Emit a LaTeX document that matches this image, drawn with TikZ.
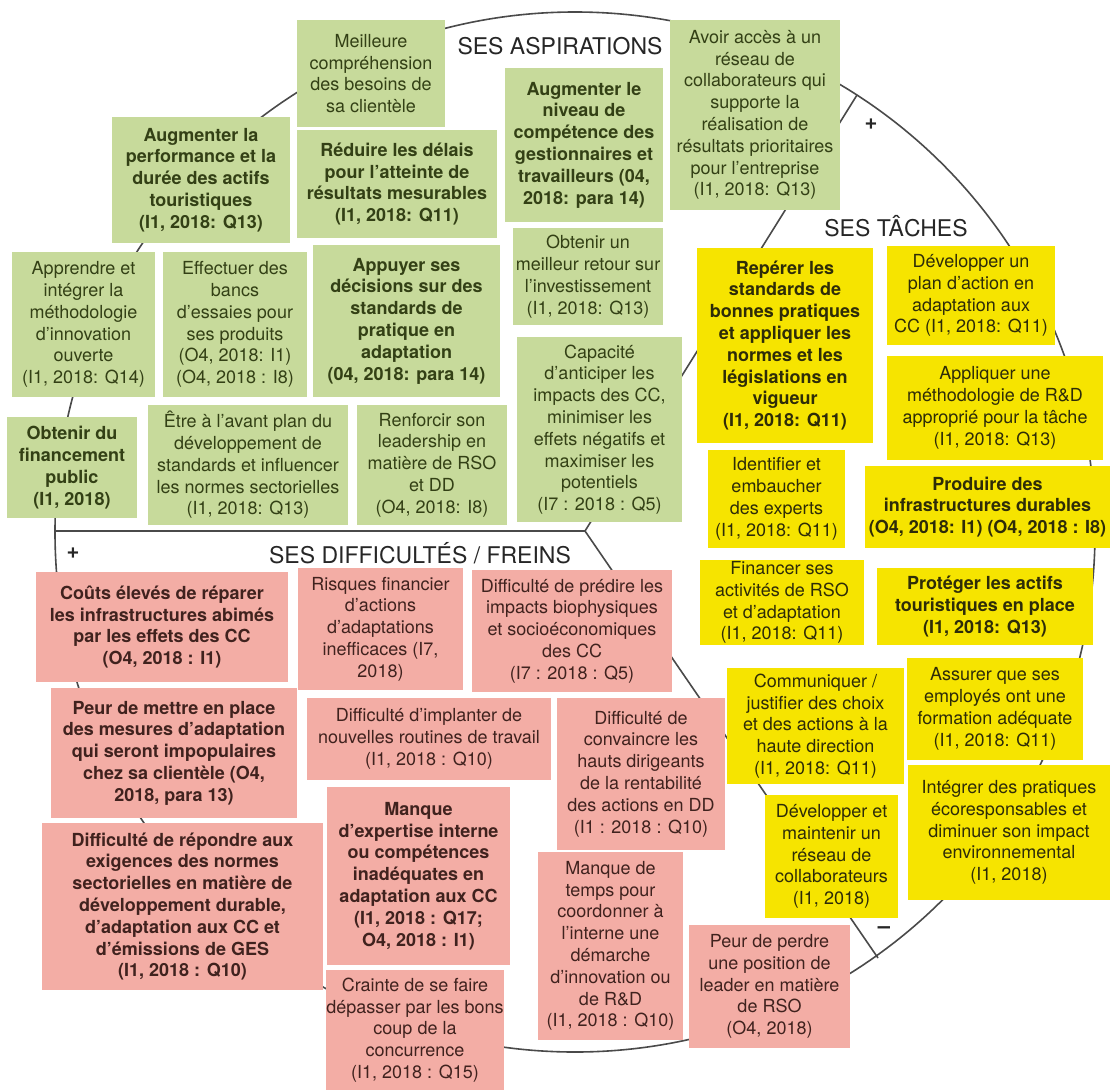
\documentclass[tikz,border=0pt]{standalone}
\usepackage{fontspec}
\setmainfont{TeX Gyre Heros}

\definecolor{gfill}{HTML}{C7DA9B}
\definecolor{yfill}{HTML}{F6E400}
\definecolor{pfill}{HTML}{F3ADA5}
\definecolor{gtext}{HTML}{334015}
\definecolor{ytext}{HTML}{2E2C08}
\definecolor{ptext}{HTML}{40221E}
\definecolor{rim}{HTML}{4A4A4A}
\definecolor{heading}{HTML}{262626}

\newcommand\cardfont{\fontsize{18}{21.8}\selectfont}
% #1 style, #2 name, #3 left, #4 top, #5 right, #6 bottom, #7 text
\newcommand\drawcard[7]{%
  \node[#1, minimum width={(#5)-(#3)}, minimum height={(#6)-(#4)}]
    (#2) at ({((#3)+(#5))/2},{((#4)+(#6))/2}) {#7};}

\begin{document}
\begin{tikzpicture}[x=1pt,y=-1pt,
  card/.style={inner sep=0pt, align=center, font=\cardfont},
  heavy/.style={font=\cardfont\bfseries},
  gain/.style={card, fill=gfill, text=gtext},
  task/.style={card, fill=yfill, text=ytext},
  pain/.style={card, fill=pfill, text=ptext},
  divider/.style={draw=rim, line width=1.6pt},
  heading/.style={font=\fontsize{23}{26}\selectfont, text=heading, inner sep=0pt},
  sign/.style={font=\fontsize{22}{24}\selectfont\bfseries, text=heading, inner sep=0pt}]

\useasboundingbox (0,0) rectangle (1113,1090);
\fill[white] (0,0) rectangle (1113,1090);

% profile circle split into three sectors
\coordinate (hub) at (585,531);
\coordinate (west) at (55,531);
\coordinate (ne) at (857,95);
\coordinate (se) at (878,958);
\draw[divider] (575,532) circle[radius=520];
\draw[divider] (west) -- (hub) -- (ne);
\draw[divider] (hub) -- (se);

% sector headings and signs
\node[heading] (hgain) at (560,46) {SES ASPIRATIONS};
\node[heading] (htask) at (896,226) {SES TÂCHES};
\node[heading] (hpain) at (420,553) {SES DIFFICULTÉS / FREINS};
\node[sign] (plusne) at (871,124) {+};
\node[sign] (plusw) at (73,553) {+};
\node[sign] (minusse) at (884,930) {--};

% aspirations
\drawcard{gain}{g1}{297}{20}{445}{127}{Meilleure\\compréhension\\des besoins de\\sa clientèle}
\drawcard{gain,heavy}{g2}{112}{117}{290}{243}{Augmenter la\\performance et la\\durée des actifs\\touristiques\\(I1, 2018: Q13)}
\drawcard{gain,heavy}{g3}{297}{130}{497}{238}{Réduire les délais\\pour l’atteinte de\\résultats mesurables\\(I1, 2018: Q11)}
\drawcard{gain,heavy}{g4}{505}{68}{663}{222}{Augmenter le\\niveau de\\compétence des\\gestionnaires et\\travailleurs (04,\\2018: para 14)}
\drawcard{gain}{g5}{670}{20}{840}{210}{Avoir accès à un\\réseau de\\collaborateurs qui\\supporte la\\réalisation de\\résultats prioritaires\\pour l’entreprise\\(I1, 2018: Q13)}
\drawcard{gain}{g6}{513}{228}{663}{325}{Obtenir un\\meilleur retour sur\\l’investissement\\(I1, 2018: Q13)}
\drawcard{gain}{g7}{12}{252}{155}{397}{Apprendre et\\intégrer la\\méthodologie\\d’innovation\\ouverte\\(I1, 2018: Q14)}
\drawcard{gain}{g8}{163}{252}{307}{397}{Effectuer des\\bancs\\d’essaies pour\\ses produits\\(O4, 2018: I1)\\(O4, 2018 : I8)}
\drawcard{gain,heavy}{g9}{313}{245}{500}{397}{Appuyer ses\\décisions sur des\\standards de\\pratique en\\adaptation\\(04, 2018: para 14)}
\drawcard{gain}{g10}{517}{337}{682}{522}{Capacité\\d’anticiper les\\impacts des CC,\\minimiser les\\effets négatifs et\\maximiser les\\potentiels\\(I7 : 2018 : Q5)}
\drawcard{gain,heavy}{g11}{7}{417}{137}{518}{Obtenir du\\financement\\public\\(I1, 2018)}
\drawcard{gain}{g12}{148}{405}{348}{525}{Être à l’avant plan du\\développement de\\standards et influencer\\les normes sectorielles\\(I1, 2018: Q13)}
\drawcard{gain}{g13}{357}{405}{507}{525}{Renforcir son\\leadership en\\matière de RSO\\et DD\\(O4, 2018: I8)}

% tasks
\drawcard{task,heavy}{t1}{697}{248}{873}{443}{Repérer les\\standards de\\bonnes pratiques\\et appliquer les\\normes et les\\législations en\\vigueur\\(I1, 2018: Q11)}
\drawcard{task}{t2}{887}{246}{1055}{345}{Développer un\\plan d’action en\\adaptation aux\\CC (I1, 2018: Q11)}
\drawcard{task}{t3}{887}{356}{1103}{460}{Appliquer une\\méthodologie de R\&D\\approprié pour la tâche\\(I1, 2018: Q13)}
\drawcard{task}{t4}{708}{450}{845}{548}{Identifier et\\embaucher\\des experts\\(I1, 2018: Q11)}
\drawcard{task,heavy}{t5}{865}{466}{1110}{548}{Produire des\\infrastructures durables\\(O4, 2018: I1) (O4, 2018 : I8)}
\drawcard{task}{t6}{700}{560}{864}{645}{Financer ses\\activités de RSO\\et d’adaptation\\(I1, 2018: Q11)}
\drawcard{task,heavy}{t7}{877}{568}{1093}{645}{Protéger les actifs\\touristiques en place\\(I1, 2018: Q13)}
\drawcard{task}{t8}{727}{668}{904}{784}{Communiquer /\\justifier des choix\\et des actions à la\\haute direction\\(I1, 2018: Q11)}
\drawcard{task}{t9}{907}{658}{1083}{760}{Assurer que ses\\employés ont une\\formation adéquate\\(I1, 2018: Q11)}
\drawcard{task}{t10}{765}{795}{898}{918}{Développer et\\maintenir un\\réseau de\\collaborateurs\\(I1, 2018)}
\drawcard{task}{t11}{908}{765}{1110}{900}{Intégrer des pratiques\\écoresponsables et\\diminuer son impact\\environnemental\\(I1, 2018)}

% difficulties
\drawcard{pain,heavy}{p1}{36}{572}{288}{682}{Coûts élevés de réparer\\les infrastructures abimés\\par les effets des CC\\(O4, 2018 : I1)}
\drawcard{pain}{p2}{298}{568}{463}{690}{Risques financier\\d’actions\\d’adaptations\\inefficaces (I7,\\2018)}
\drawcard{pain}{p3}{472}{570}{672}{692}{Difficulté de prédire les\\impacts biophysiques\\et socioéconomiques\\des CC\\(I7 : 2018 : Q5)}
\drawcard{pain,heavy}{p4}{51}{688}{297}{818}{Peur de mettre en place\\des mesures d’adaptation\\qui seront impopulaires\\chez sa clientèle (O4,\\2018, para 13)}
\drawcard{pain}{p5}{307}{698}{551}{780}{Difficulté d’implanter de\\nouvelles routines de travail\\(I1, 2018 : Q10)}
\drawcard{pain}{p6}{557}{698}{725}{850}{Difficulté de\\convaincre les\\hauts dirigeants\\de la rentabilité\\des actions en DD\\(I1 : 2018 : Q10)}
\drawcard{pain,heavy}{p7}{42}{823}{323}{990}{Difficulté de répondre aux\\exigences des normes\\sectorielles en matière de\\développement durable,\\d’adaptation aux CC et\\d’émissions de GES\\(I1, 2018 : Q10)}
\drawcard{pain,heavy}{p8}{327}{787}{510}{965}{Manque\\d’expertise interne\\ou compétences\\inadéquates en\\adaptation aux CC\\(I1, 2018 : Q17;\\O4, 2018 : I1)}
\drawcard{pain}{p9}{538}{852}{683}{1040}{Manque de\\temps pour\\coordonner à\\l’interne une\\démarche\\d’innovation ou\\de R\&D\\(I1, 2018 : Q10)}
\drawcard{pain}{p10}{689}{925}{850}{1048}{Peur de perdre\\une position de\\leader en matière\\de RSO\\(O4, 2018)}
\drawcard{pain}{p11}{327}{970}{503}{1090}{Crainte de se faire\\dépasser par les bons\\coup de la\\concurrence\\(I1, 2018 : Q15)}

\end{tikzpicture}
\end{document}
